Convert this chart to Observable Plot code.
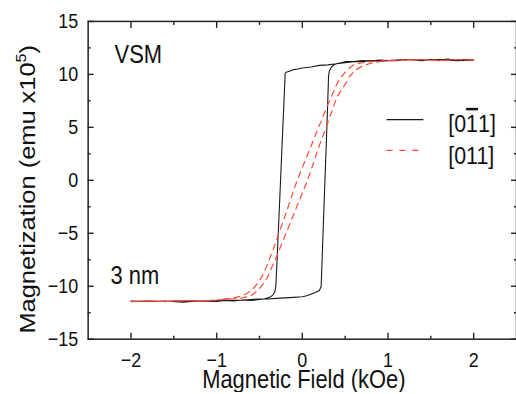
<!DOCTYPE html>
<html><head><meta charset="utf-8">
<style>
html,body{margin:0;padding:0;overflow:hidden;background:#fff;width:516px;height:394px}
svg{display:block}
</style>
<script src="https://cdn.jsdelivr.net/npm/d3@7"></script>
<script src="https://cdn.jsdelivr.net/npm/@observablehq/plot@0.6"></script>
</head><body><div id="chart"></div>
<script>
// ---- data (field in kOe, magnetization in emu x10^-5) ----
const blackDescH = [2.0, 1.9, 1.8, 1.7, 1.6, 1.5, 1.4, 1.3, 1.2, 1.1, 1.0, 0.9, 0.8, 0.7, 0.6, 0.5, 0.4, 0.3, 0.2, 0.1, 0.0, -0.05, -0.1, -0.15, -0.19, -0.2, -0.214, -0.233, -0.254, -0.273, -0.292, -0.309, -0.32, -0.34, -0.37, -0.4, -0.45, -0.5, -0.6, -0.7, -0.8, -0.9, -1.0, -1.2, -1.4, -1.6, -1.8, -2.0];
const blackDescM = [11.35, 11.4, 11.3, 11.45, 11.35, 11.4, 11.3, 11.35, 11.4, 11.3, 11.3, 11.25, 11.3, 11.2, 11.2, 11.1, 11.0, 10.9, 10.85, 10.7, 10.6, 10.5, 10.45, 10.3, 10.2, 10.1, 7.5, 4.0, 0.0, -3.5, -7.0, -10.0, -10.5, -10.8, -11.0, -11.1, -11.2, -11.25, -11.35, -11.3, -11.4, -11.35, -11.45, -11.4, -11.5, -11.4, -11.45, -11.4];
const blackAscH = [-2.0, -1.8, -1.6, -1.4, -1.2, -1.0, -0.9, -0.8, -0.7, -0.6, -0.5, -0.4, -0.3, -0.2, -0.1, 0.0, 0.05, 0.1, 0.15, 0.2, 0.22, 0.231, 0.246, 0.264, 0.28, 0.295, 0.306, 0.315, 0.34, 0.37, 0.4, 0.45, 0.5, 0.6, 0.7, 0.8, 0.9, 1.0, 1.2, 1.4, 1.6, 1.8, 2.0];
const blackAscM = [-11.45, -11.4, -11.45, -11.35, -11.4, -11.35, -11.3, -11.35, -11.3, -11.25, -11.2, -11.2, -11.15, -11.1, -11.05, -11.0, -10.9, -10.75, -10.6, -10.4, -10.0, -7.5, -4.0, 0.0, 3.5, 7.0, 9.8, 10.3, 10.7, 10.9, 11.0, 11.1, 11.2, 11.2, 11.3, 11.25, 11.35, 11.3, 11.4, 11.35, 11.4, 11.3, 11.35];
const redDescH = [2.0, 1.8, 1.6, 1.4, 1.2, 1.0, 0.9, 0.8, 0.7, 0.6, 0.55, 0.5, 0.45, 0.41, 0.35, 0.3, 0.26, 0.2, 0.1, 0.0, -0.06, -0.1, -0.19, -0.26, -0.33, -0.4, -0.47, -0.53, -0.58, -0.65, -0.7, -0.8, -0.9, -1.0, -1.2, -1.4, -1.6, -1.8, -2.0];
const redDescM = [11.35, 11.4, 11.3, 11.4, 11.35, 11.3, 11.25, 11.2, 11.1, 10.9, 10.6, 10.2, 9.7, 9.2, 8.1, 7.2, 6.4, 5.2, 3.2, 1.2, 0.0, -0.9, -3.1, -4.7, -6.3, -7.8, -9.1, -9.8, -10.3, -10.7, -10.9, -11.1, -11.2, -11.3, -11.4, -11.35, -11.45, -11.4, -11.45];
const redAscH = [-2.0, -1.8, -1.6, -1.4, -1.2, -1.0, -0.9, -0.8, -0.7, -0.6, -0.55, -0.5, -0.45, -0.41, -0.35, -0.3, -0.26, -0.2, -0.1, 0.0, 0.06, 0.1, 0.19, 0.26, 0.34, 0.4, 0.47, 0.51, 0.55, 0.62, 0.7, 0.8, 0.9, 1.0, 1.2, 1.4, 1.6, 1.8, 2.0];
const redAscM = [-11.45, -11.4, -11.45, -11.35, -11.4, -11.3, -11.25, -11.2, -11.1, -10.9, -10.6, -10.2, -9.7, -9.2, -8.1, -7.2, -6.4, -5.2, -3.2, -1.2, 0.0, 0.9, 3.1, 4.6, 6.4, 7.8, 8.7, 9.2, 9.8, 10.4, 10.8, 11.05, 11.2, 11.3, 11.35, 11.4, 11.3, 11.4, 11.35];

const xTicks = [-2, -1, 0, 1, 2];
const xMinor = [-1.5, -0.5, 0.5, 1.5];
const yTicks = [-15, -10, -5, 0, 5, 10, 15];
const yMinor = [-12.5, -7.5, -2.5, 2.5, 7.5, 12.5];
const seriesNames = ["[011]", "[011]"];
const xTitle = "Magnetic Field (kOe)";
const yTitle = "Magnetization (emu x10";
const yTitleExp = "5";
const notes = ["VSM", "3 nm"];

// ---- tables ----
const toRows = (H, M) => H.map((h, i) => ({H: h, M: M[i]}));
const black = toRows(blackDescH, blackDescM).concat(toRows(blackAscH, blackAscM));
const red = toRows(redDescH, redDescM).concat(toRows(redAscH, redAscM));

const FONT = "'Liberation Sans', Arial, Helvetica, sans-serif";
const STRETCH = 1.16;
const fmt = (d) => (d < 0 ? "\u2212" : "") + Math.abs(d);

const plot = Plot.plot({
  width: 518, height: 394,
  marginLeft: 88, marginRight: 0, marginTop: 21, marginBottom: 54,
  x: {domain: [-2.5, 2.5]},
  y: {domain: [-15, 15]},
  style: {fontFamily: FONT, background: "#fff", color: "#111"},
  marks: [
    // ticks (inward)
    Plot.axisX({anchor: "bottom", ticks: xTicks, tickSize: 6, dy: -6, tickFormat: () => "", label: null, strokeWidth: 1.4, stroke: "#222"}),
    Plot.axisX({anchor: "bottom", ticks: xMinor, tickSize: 3, dy: -3, tickFormat: () => "", label: null, strokeWidth: 1.4, stroke: "#222"}),
    Plot.axisX({anchor: "top", ticks: xTicks, tickSize: 6, dy: 6, tickFormat: () => "", label: null, strokeWidth: 1.4, stroke: "#222"}),
    Plot.axisX({anchor: "top", ticks: xMinor, tickSize: 3, dy: 3, tickFormat: () => "", label: null, strokeWidth: 1.4, stroke: "#222"}),
    Plot.axisY({anchor: "left", ticks: yTicks, tickSize: 6, dx: 6, tickFormat: () => "", label: null, strokeWidth: 1.4, stroke: "#222"}),
    Plot.axisY({anchor: "left", ticks: yMinor, tickSize: 3, dx: 3, tickFormat: () => "", label: null, strokeWidth: 1.4, stroke: "#222"}),
    Plot.axisY({anchor: "right", ticks: yTicks, tickSize: 6, dx: -6, tickFormat: () => "", label: null, strokeWidth: 1.4, stroke: "#222"}),
    Plot.axisY({anchor: "right", ticks: yMinor, tickSize: 3, dx: -3, tickFormat: () => "", label: null, strokeWidth: 1.4, stroke: "#222"}),
    // tick labels
    Plot.axisX({anchor: "bottom", ticks: xTicks, tickSize: 0, tickPadding: 13, fontSize: 18, label: null, fill: "#111", tickFormat: fmt}),
    Plot.axisY({anchor: "left", ticks: yTicks, tickSize: 0, tickPadding: 10, fontSize: 18, label: null, fill: "#111", tickFormat: fmt}),
    Plot.frame({stroke: "#222", strokeWidth: 1.5}),
    // data
    Plot.line(black, {x: "H", y: "M", stroke: "#1a1a1a", strokeWidth: 1.1}),
    Plot.line(red, {x: "H", y: "M", stroke: "#ff4a38", strokeWidth: 1.2, strokeDasharray: "6,5"})
  ]
});

// vertical stretch of axis tick labels to match the reference's aspect
d3.select(plot).selectAll("text").each(function () {
  const t = this.getAttribute("transform") || "";
  this.setAttribute("transform", t + ` scale(1,${STRETCH})`);
});

const svg = d3.select(plot);
const addText = (x, y, str, size, anchor = "start") =>
  svg.append("text").attr("transform", `translate(${x},${y}) scale(1,${STRETCH})`)
    .attr("font-family", FONT).attr("font-size", size).attr("fill", "#111")
    .attr("text-anchor", anchor).text(str);

// axis titles
addText(305, 390, xTitle, 22, "middle");
const yt = svg.append("text").attr("transform", `translate(35,190) scale(1,${STRETCH}) rotate(-90)`)
  .attr("font-family", FONT).attr("font-size", 22).attr("fill", "#111").attr("text-anchor", "middle");
yt.append("tspan").text(yTitle);
yt.append("tspan").attr("font-size", 14).attr("dy", -9).text(yTitleExp);
yt.append("tspan").attr("dy", 9).text(")");

// annotations
addText(115, 63, notes[0], 22);
addText(111, 285, notes[1], 22);

// legend
svg.append("line").attr("x1", 388).attr("x2", 425).attr("y1", 120).attr("y2", 120)
  .attr("stroke", "#1a1a1a").attr("stroke-width", 1.2);
svg.append("line").attr("x1", 388).attr("x2", 425).attr("y1", 151).attr("y2", 151)
  .attr("stroke", "#ff4a38").attr("stroke-width", 1.2).attr("stroke-dasharray", "6,7");
const l1 = svg.append("text").attr("transform", `translate(450,133) scale(1,${STRETCH})`)
  .attr("font-family", FONT).attr("font-size", 21.5).attr("fill", "#111").attr("text-anchor", "start");
l1.append("tspan").text(seriesNames[0].slice(0, 2));
l1.append("tspan").attr("text-decoration", "overline").style("text-decoration", "overline").text(seriesNames[0].slice(2, 3));
l1.append("tspan").text(seriesNames[0].slice(3));
addText(450, 165, seriesNames[1], 21.5);

document.getElementById("chart").appendChild(plot);
</script>
</body></html>
